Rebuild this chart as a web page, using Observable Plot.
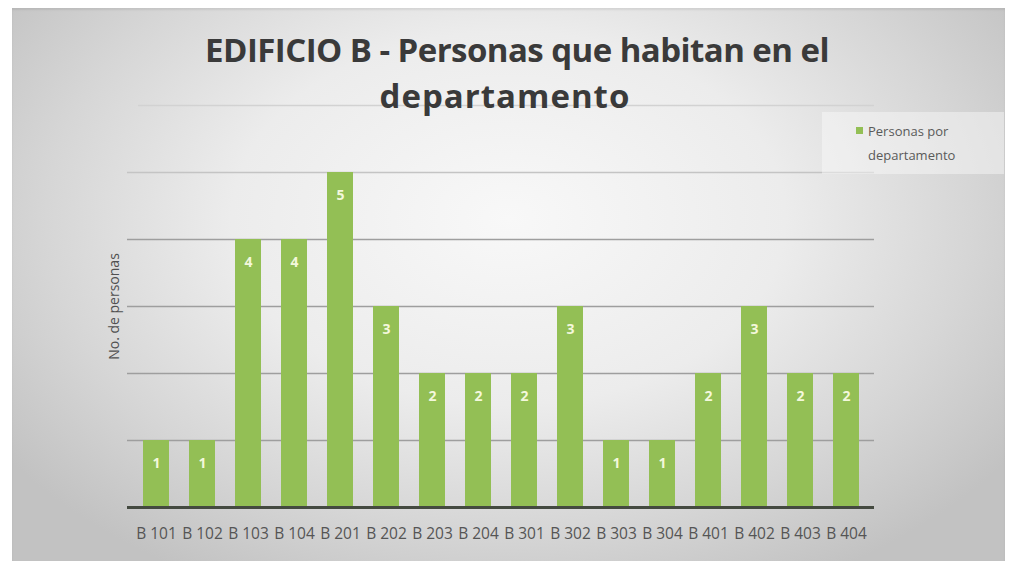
<!DOCTYPE html>
<html>
<head>
<meta charset="utf-8">
<script src="https://cdn.jsdelivr.net/npm/d3@7"></script>
<script src="https://cdn.jsdelivr.net/npm/@observablehq/plot@0.6"></script>
<style>
  html, body { margin: 0; padding: 0; background: #ffffff; }
  #wrap { position: relative; width: 1012px; height: 565px; overflow: hidden; }
  #panel {
    position: absolute; left: 12px; top: 8px; width: 993px; height: 553px;
    background: radial-gradient(ellipse 62% 75% at 50% 38%, #f8f8f8 0%, #ececec 45%, #d6d6d6 75%, #c2c2c2 100%);
    box-shadow: inset 0 2px 2px rgba(0,0,0,0.08);
  }
  .title {
    position: absolute; text-align: center;
    font-family: "Open Sans", sans-serif; font-weight: bold;
    font-size: 33px; line-height: 46px; color: #3a3a3a; white-space: nowrap;
  }
  #t1 { left: 0; width: 1034px; top: 27px; letter-spacing: -0.55px; }
  #t2 { left: 0; width: 1010px; top: 73px; letter-spacing: 1px; }
  #legend {
    position: absolute; left: 822px; top: 112px; width: 182px; height: 62px;
    background: rgba(250,250,250,0.45);
    font-family: "Open Sans", sans-serif; font-size: 13px; line-height: 24px; color: #5a5a5a;
  }
  #legend .sw { position: absolute; left: 34px; top: 15px; width: 7px; height: 7px; background: #93bf55; }
  #legend .tx { position: absolute; left: 46px; top: 7px; }
  #chart { position: absolute; left: 0; top: 0; }
</style>
</head>
<body>
<div id="wrap">
  <div id="panel"></div>
  <div id="chart"></div>
  <div class="title" id="t1">EDIFICIO B - Personas que habitan en el</div>
  <div class="title" id="t2">departamento</div>
  <div id="legend"><div class="sw"></div><div class="tx">Personas por<br>departamento</div></div>
</div>
<script>
// Departments of building B and the number of people living in each
const departamentos = ["B 101", "B 102", "B 103", "B 104", "B 201", "B 202", "B 203", "B 204",
                       "B 301", "B 302", "B 303", "B 304", "B 401", "B 402", "B 403", "B 404"];
const personas = [1, 1, 4, 4, 5, 3, 2, 2, 2, 3, 1, 1, 2, 3, 2, 2];
const gridMajor = [1, 2, 3, 4];
const gridUpper = [5];
const gridTop = [6];

const data = departamentos.map((d, i) => ({departamento: d, personas: personas[i]}));

const chart = Plot.plot({
  width: 1012,
  height: 565,
  marginLeft: 127,
  marginRight: 138,
  marginTop: 105,
  marginBottom: 58,
  style: {background: "transparent", fontFamily: "Open Sans, sans-serif"},
  x: {domain: departamentos, paddingInner: 0.44, paddingOuter: 0.22, label: null},
  y: {domain: [0, 6], axis: null},
  marks: [
    Plot.ruleY(gridMajor, {stroke: "#9e9e9e", strokeWidth: 1.6}),
    Plot.ruleY(gridUpper, {stroke: "#c4c4c4", strokeWidth: 1.6}),
    Plot.ruleY(gridTop, {stroke: "#d2d2d2", strokeWidth: 1.6, insetLeft: 11}),
    Plot.barY(data, {x: "departamento", y: "personas", fill: "#93bf55"}),
    Plot.ruleY([0], {stroke: "#444a40", strokeWidth: 3}),
    Plot.text(data, {x: "departamento", y: "personas", text: d => String(d.personas),
      dy: 23, fill: "#f3f8dc", fontSize: 14, fontWeight: "bold"}),
    Plot.axisX({tickSize: 0, tickPadding: 20, fontSize: 15.5, fill: "#555555", label: null}),
    Plot.text(["No. de personas"], {frameAnchor: "left", textAnchor: "middle", rotate: -90, dx: -13,
      fontSize: 14, fill: "#505050"})
  ]
});
document.getElementById("chart").appendChild(chart);
</script>
</body>
</html>
